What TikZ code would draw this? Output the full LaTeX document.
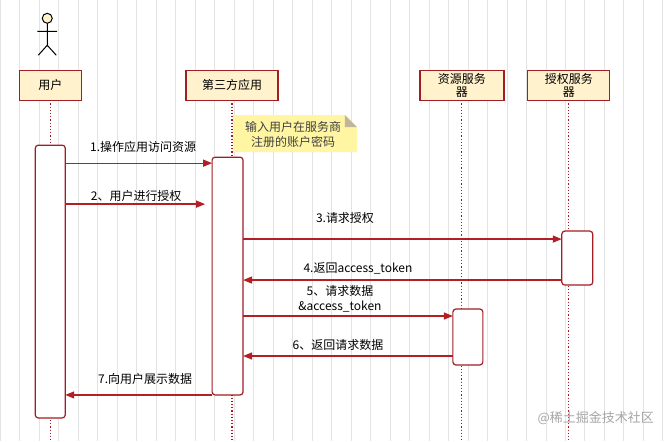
\documentclass[tikz,border=0pt]{standalone}
\usepackage{fontspec}
\setmainfont{Noto Sans CJK SC}
\usetikzlibrary{arrows.meta}
\definecolor{bd}{HTML}{A11E22}
\definecolor{fillc}{HTML}{FFF2CC}
\definecolor{arr}{HTML}{B21F24}
\tikzset{x=1pt,y=-1pt,
 part/.style={draw=bd,line width=1.3pt,fill=fillc,minimum height=30pt,align=center,font=\fontsize{12}{12.5}\selectfont,inner sep=1pt},
 act/.style={draw=bd,line width=1.2pt,fill=white,rounded corners=3pt},
 life/.style={draw=bd,line width=1.2pt,dotted},
 msg/.style={draw=arr,line width=1.3pt,-{Triangle[length=9pt,width=7pt]}},
 lbl/.style={font=\fontsize{12}{13}\selectfont,align=center,inner sep=0}}
\begin{document}
\begin{tikzpicture}
\fill[white] (0,0) rectangle (669,441);
\draw[black!11,line width=0.6pt] (0,0) grid[step=19.5] (669,441);
\useasboundingbox (0,0) rectangle (669,441);
% actor
\draw[black,line width=1pt,fill=fillc] (47,18) circle (5);
\draw[black,line width=1pt] (47,23) -- (47,45) (37,31) -- (57,31) (38,55) -- (47,45) -- (56,55);
% lifelines
\draw[life] (50,100) -- (50,441);
\draw[life] (232,100) -- (232,441);
\draw[life] (462,100) -- (462,441);
\draw[life] (569,100) -- (569,441);
% participants
\node[part,minimum width=62pt] (u) at (50,85) {用户};
\node[part,minimum width=92pt] (app) at (232,85) {第三方应用};
\node[part,minimum width=84pt,text width=72pt] (rs) at (462,85) {资源服务\\器};
\node[part,minimum width=82pt,text width=70pt] (as) at (569,85) {授权服务\\器};
% note
\fill[fillc!80!yellow] (233,115) -- (345,115) -- (357,127) -- (357,152) -- (233,152) -- cycle;
\fill[black!25!fillc] (345,115) -- (357,127) -- (345,127) -- cycle;
\node[lbl,text=black!75,font=\fontsize{12}{15}\selectfont] (note) at (293,134) {输入用户在服务商\\注册的账户密码};
% activations
\draw[act] (35,145) rectangle (65,418);
\draw[act] (212,157) rectangle (243,395);
\draw[act] (562,231) rectangle (593,285);
\draw[act] (453,309) rectangle (483,365);
\coordinate (ua) at (65,0); \coordinate (aa) at (212,0); \coordinate (ab) at (243,0);
\coordinate (sa) at (562,0); \coordinate (ra) at (453,0);
% messages
\draw[msg] (ua|-0,163) -- (aa|-0,163);
\node[lbl] at (143,147) {1.操作应用访问资源};
\draw[msg] (ua|-0,204) -- (205,204);
\node[lbl] at (136,196) {2、用户进行授权};
\draw[msg] (ab|-0,239) -- (sa|-0,239);
\node[lbl] at (345,218) {3.请求授权};
\draw[msg] (sa|-0,280) -- (ab|-0,280);
\node[lbl] at (358,268) {4.返回access\_token};
\draw[msg] (ab|-0,316) -- (ra|-0,316);
\node[lbl,font=\fontsize{12}{15}\selectfont] at (340,299) {5、请求数据\\\&access\_token};
\draw[msg] (ra|-0,356) -- (ab|-0,356);
\node[lbl] at (338,345) {6、返回请求数据};
\draw[msg] (aa|-0,395) -- (ua|-0,395);
\node[lbl] at (145,379) {7.向用户展示数据};
\node[lbl,text=black!35,font=\fontsize{13}{14}\selectfont] at (596,418) {@稀土掘金技术社区};
\end{tikzpicture}
\end{document}
